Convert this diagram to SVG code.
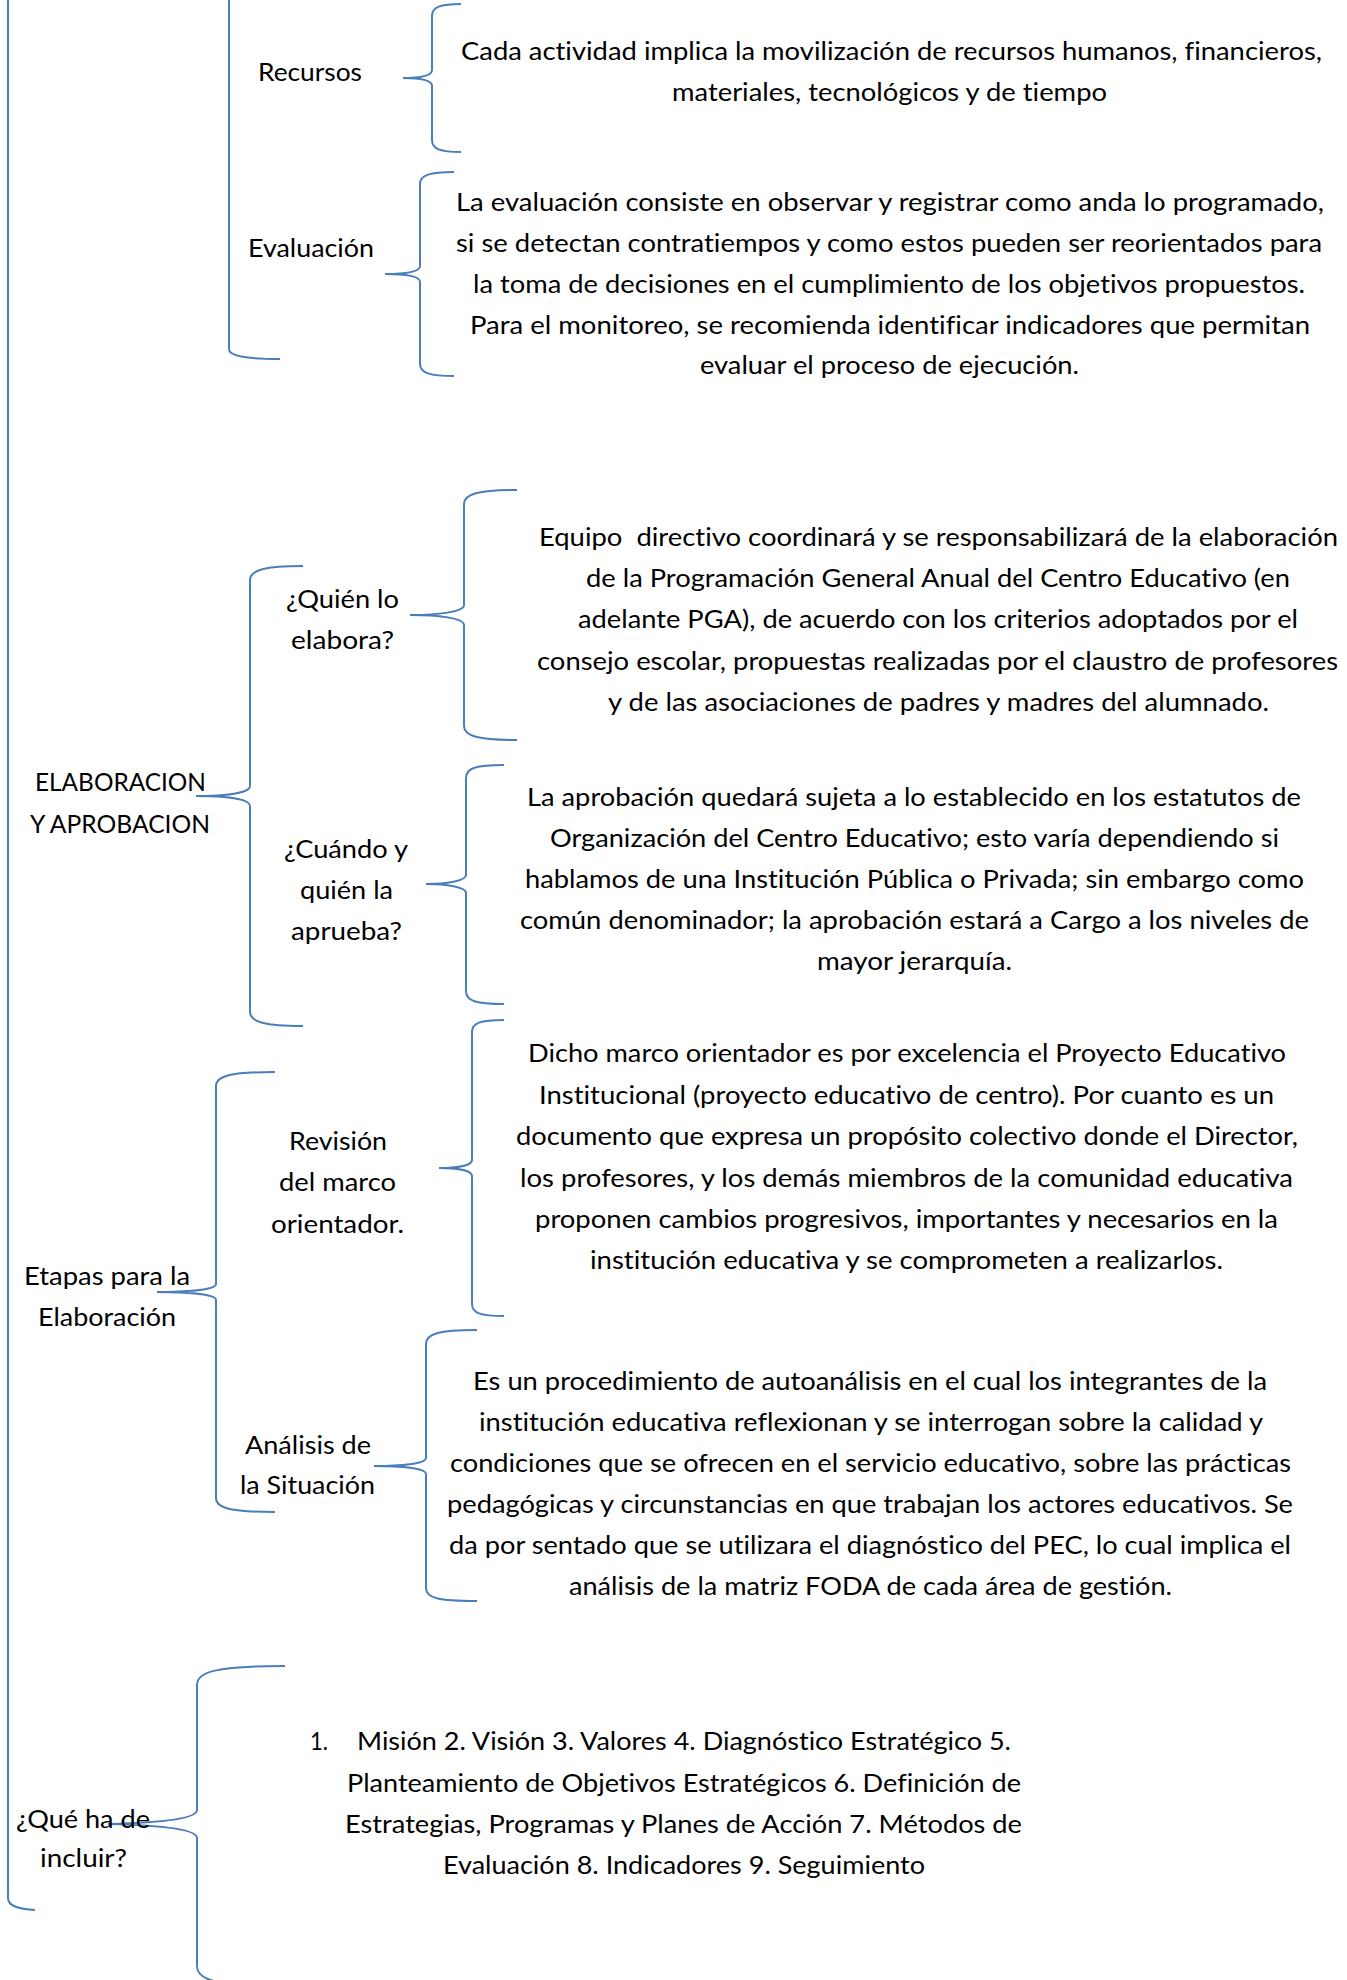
<svg xmlns="http://www.w3.org/2000/svg" width="1347" height="1980" viewBox="0 0 1347 1980">
<style>
.t{font-family:Lato,"Liberation Sans",sans-serif;font-size:25.5px;fill:#000;font-variant-ligatures:none;font-feature-settings:"liga" 0,"dlig" 0}
.b{fill:none;stroke:#4A7EBB;stroke-width:2}
</style>
<rect width="1347" height="1980" fill="#fff"/>
<g id="connectors">
<path class="b" d="M8,-5 L8,1898 C8,1906 18,1909 35,1910"/>
<path class="b" d="M229,-5 L229,349 C229,356 245,359 280,359"/>
<path class="b" d="M461,4 C440,4 432,7 432,16 L432,70 C432,76 420,78 403,78 C420,78 432,80 432,86 L432,140 C432,149 440,152 461,152"/>
<path class="b" d="M454,172 C430,172 420,175 420,184 L420,266 C420,272 406,274 385,274 C406,274 420,276 420,282 L420,364 C420,373 430,376 454,376"/>
<path class="b" d="M303,566 C265,566 250,570 250,580 L250,786 C250,793 225,796 196,796 C225,796 250,799 250,806 L250,1012 C250,1022 265,1026 303,1026"/>
<path class="b" d="M517,490 C478,490 464,494 464,504 L464,605 C464,612 438,615 410,615 C438,615 464,618 464,625 L464,726 C464,736 478,740 517,740"/>
<path class="b" d="M504,765 C476,765 466,768 466,778 L466,875 C466,881 446,884 426,884 C446,884 466,887 466,893 L466,991 C466,1001 476,1004 504,1004"/>
<path class="b" d="M504,1020 C480,1020 472,1023 472,1032 L472,1160 C472,1166 455,1168 439,1168 C455,1168 472,1170 472,1176 L472,1304 C472,1313 480,1316 504,1316"/>
<path class="b" d="M275,1072 C230,1072 216,1076 216,1086 L216,1284 C216,1290 185,1292 157,1292 C185,1292 216,1294 216,1300 L216,1498 C216,1508 230,1512 275,1512"/>
<path class="b" d="M477,1330 C438,1330 426,1334 426,1344 L426,1458 C426,1464 400,1466 374,1466 C400,1466 426,1468 426,1474 L426,1588 C426,1598 438,1601 477,1601"/>
<path class="b" d="M285,1666 C215,1666 197,1672 197,1685 L197,1810 C197,1820 150,1823 108,1824 C150,1825 197,1828 197,1838 L197,1966 C197,1980 215,1986 285,1986"/>
</g>
<g id="recursos">
<text class="t" x="258" y="81" textLength="104" lengthAdjust="spacingAndGlyphs">Recursos</text>
</g>
<g id="recursos-desc">
<text class="t" x="461" y="60" textLength="861" lengthAdjust="spacingAndGlyphs">Cada actividad implica la movilización de recursos humanos, financieros,</text>
<text class="t" x="672" y="101" textLength="435" lengthAdjust="spacingAndGlyphs">materiales, tecnológicos y de tiempo</text>
</g>
<g id="evaluacion">
<text class="t" x="248" y="257" textLength="126" lengthAdjust="spacingAndGlyphs">Evaluación</text>
</g>
<g id="evaluacion-desc">
<text class="t" x="456" y="211" textLength="868" lengthAdjust="spacingAndGlyphs">La evaluación consiste en observar y registrar como anda lo programado,</text>
<text class="t" x="456" y="252" textLength="866" lengthAdjust="spacingAndGlyphs">si se detectan contratiempos y como estos pueden ser reorientados para</text>
<text class="t" x="473" y="293" textLength="832" lengthAdjust="spacingAndGlyphs">la toma de decisiones en el cumplimiento de los objetivos propuestos.</text>
<text class="t" x="470" y="334" textLength="840" lengthAdjust="spacingAndGlyphs">Para el monitoreo, se recomienda identificar indicadores que permitan</text>
<text class="t" x="700" y="374" textLength="379" lengthAdjust="spacingAndGlyphs">evaluar el proceso de ejecución.</text>
</g>
<g id="elaboracion-aprobacion">
<text class="t" x="35" y="791" textLength="171" lengthAdjust="spacingAndGlyphs">ELABORACION</text>
<text class="t" x="30" y="833" textLength="180" lengthAdjust="spacingAndGlyphs">Y APROBACION</text>
</g>
<g id="quien-elabora">
<text class="t" x="286" y="608" textLength="113" lengthAdjust="spacingAndGlyphs">¿Quién lo</text>
<text class="t" x="291" y="649" textLength="103" lengthAdjust="spacingAndGlyphs">elabora?</text>
</g>
<g id="quien-elabora-desc">
<text class="t" x="539" y="546" textLength="799" lengthAdjust="spacingAndGlyphs" xml:space="preserve" style="white-space:pre">Equipo  directivo coordinará y se responsabilizará de la elaboración</text>
<text class="t" x="586" y="587" textLength="704" lengthAdjust="spacingAndGlyphs">de la Programación General Anual del Centro Educativo (en</text>
<text class="t" x="578" y="628" textLength="720" lengthAdjust="spacingAndGlyphs">adelante PGA), de acuerdo con los criterios adoptados por el</text>
<text class="t" x="537" y="670" textLength="801" lengthAdjust="spacingAndGlyphs">consejo escolar, propuestas realizadas por el claustro de profesores</text>
<text class="t" x="608" y="711" textLength="661" lengthAdjust="spacingAndGlyphs">y de las asociaciones de padres y madres del alumnado.</text>
</g>
<g id="cuando-aprueba">
<text class="t" x="284" y="858" textLength="124" lengthAdjust="spacingAndGlyphs">¿Cuándo y</text>
<text class="t" x="300" y="899" textLength="93" lengthAdjust="spacingAndGlyphs">quién la</text>
<text class="t" x="291" y="940" textLength="111" lengthAdjust="spacingAndGlyphs">aprueba?</text>
</g>
<g id="cuando-aprueba-desc">
<text class="t" x="527" y="806" textLength="774" lengthAdjust="spacingAndGlyphs">La aprobación quedará sujeta a lo establecido en los estatutos de</text>
<text class="t" x="550" y="847" textLength="729" lengthAdjust="spacingAndGlyphs">Organización del Centro Educativo; esto varía dependiendo si</text>
<text class="t" x="525" y="888" textLength="779" lengthAdjust="spacingAndGlyphs">hablamos de una Institución Pública o Privada; sin embargo como</text>
<text class="t" x="520" y="929" textLength="789" lengthAdjust="spacingAndGlyphs">común denominador; la aprobación estará a Cargo a los niveles de</text>
<text class="t" x="817" y="970" textLength="195" lengthAdjust="spacingAndGlyphs">mayor jerarquía.</text>
</g>
<g id="etapas">
<text class="t" x="24" y="1285" textLength="166" lengthAdjust="spacingAndGlyphs">Etapas para la</text>
<text class="t" x="38" y="1326" textLength="138" lengthAdjust="spacingAndGlyphs">Elaboración</text>
</g>
<g id="revision">
<text class="t" x="289" y="1150" textLength="98" lengthAdjust="spacingAndGlyphs">Revisión</text>
<text class="t" x="279" y="1191" textLength="117" lengthAdjust="spacingAndGlyphs">del marco</text>
<text class="t" x="271" y="1233" textLength="133" lengthAdjust="spacingAndGlyphs">orientador.</text>
</g>
<g id="revision-desc">
<text class="t" x="528" y="1062" textLength="758" lengthAdjust="spacingAndGlyphs">Dicho marco orientador es por excelencia el Proyecto Educativo</text>
<text class="t" x="539" y="1104" textLength="735" lengthAdjust="spacingAndGlyphs">Institucional (proyecto educativo de centro). Por cuanto es un</text>
<text class="t" x="516" y="1145" textLength="782" lengthAdjust="spacingAndGlyphs">documento que expresa un propósito colectivo donde el Director,</text>
<text class="t" x="520" y="1187" textLength="773" lengthAdjust="spacingAndGlyphs">los profesores, y los demás miembros de la comunidad educativa</text>
<text class="t" x="535" y="1228" textLength="743" lengthAdjust="spacingAndGlyphs">proponen cambios progresivos, importantes y necesarios en la</text>
<text class="t" x="590" y="1269" textLength="633" lengthAdjust="spacingAndGlyphs">institución educativa y se comprometen a realizarlos.</text>
</g>
<g id="analisis">
<text class="t" x="245" y="1454" textLength="126" lengthAdjust="spacingAndGlyphs">Análisis de</text>
<text class="t" x="240" y="1494" textLength="135" lengthAdjust="spacingAndGlyphs">la Situación</text>
</g>
<g id="analisis-desc">
<text class="t" x="473" y="1390" textLength="794" lengthAdjust="spacingAndGlyphs">Es un procedimiento de autoanálisis en el cual los integrantes de la</text>
<text class="t" x="479" y="1431" textLength="784" lengthAdjust="spacingAndGlyphs">institución educativa reflexionan y se interrogan sobre la calidad y</text>
<text class="t" x="450" y="1472" textLength="841" lengthAdjust="spacingAndGlyphs">condiciones que se ofrecen en el servicio educativo, sobre las prácticas</text>
<text class="t" x="447" y="1513" textLength="846" lengthAdjust="spacingAndGlyphs">pedagógicas y circunstancias en que trabajan los actores educativos. Se</text>
<text class="t" x="449" y="1554" textLength="842" lengthAdjust="spacingAndGlyphs">da por sentado que se utilizara el diagnóstico del PEC, lo cual implica el</text>
<text class="t" x="569" y="1595" textLength="603" lengthAdjust="spacingAndGlyphs">análisis de la matriz FODA de cada área de gestión.</text>
</g>
<g id="que-incluir">
<text class="t" x="16" y="1828" textLength="134" lengthAdjust="spacingAndGlyphs">¿Qué ha de</text>
<text class="t" x="40" y="1867" textLength="87" lengthAdjust="spacingAndGlyphs">incluir?</text>
</g>
<g id="que-incluir-desc">
<text class="t" x="310" y="1750" textLength="18" lengthAdjust="spacingAndGlyphs">1.</text>
<text class="t" x="357" y="1750" textLength="654" lengthAdjust="spacingAndGlyphs">Misión 2. Visión 3. Valores 4. Diagnóstico Estratégico 5.</text>
<text class="t" x="347" y="1792" textLength="674" lengthAdjust="spacingAndGlyphs">Planteamiento de Objetivos Estratégicos 6. Definición de</text>
<text class="t" x="345" y="1833" textLength="677" lengthAdjust="spacingAndGlyphs">Estrategias, Programas y Planes de Acción 7. Métodos de</text>
<text class="t" x="443" y="1874" textLength="482" lengthAdjust="spacingAndGlyphs">Evaluación 8. Indicadores 9. Seguimiento</text>
</g>
</svg>
